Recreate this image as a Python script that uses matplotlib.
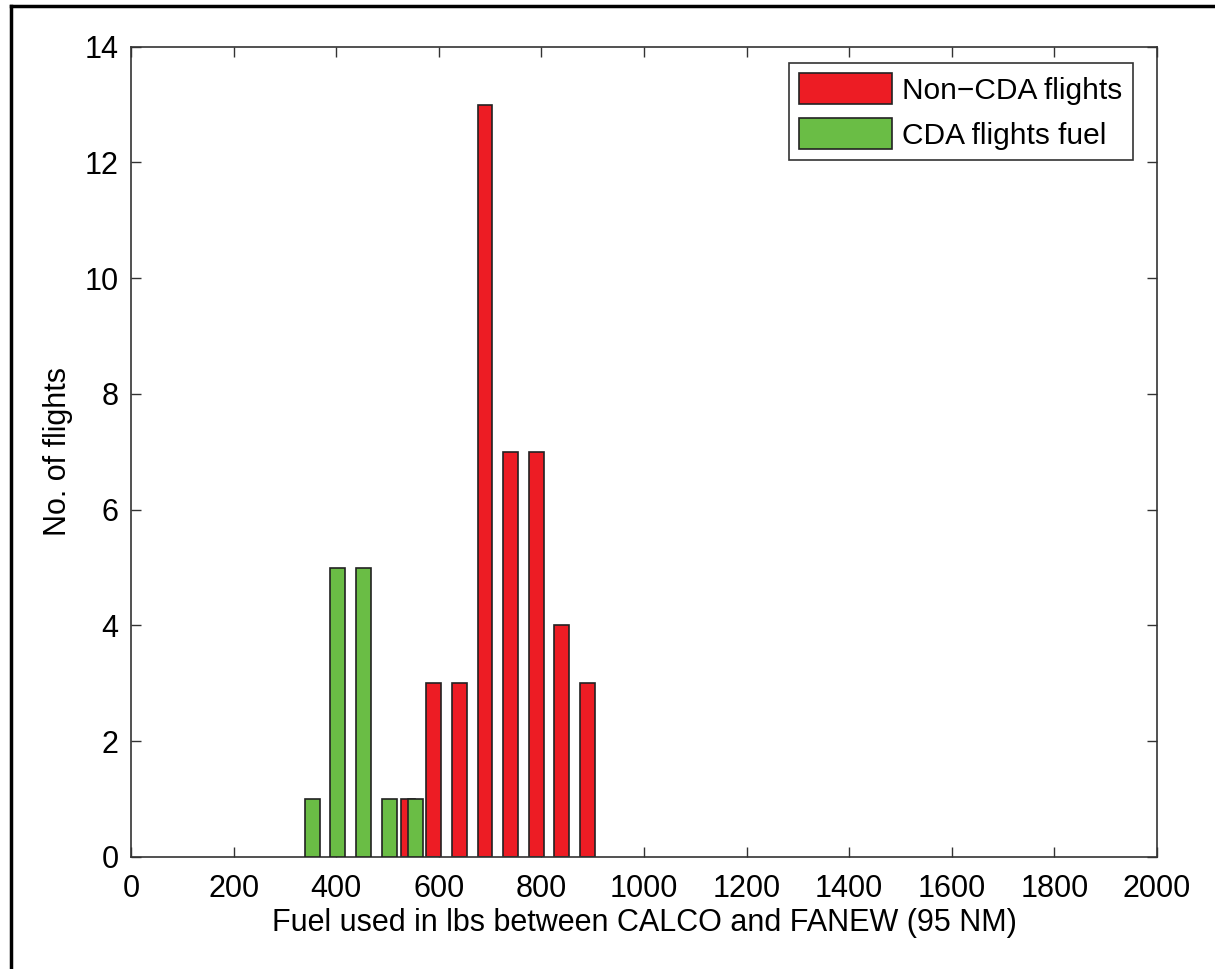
import matplotlib
matplotlib.use("Agg")
import matplotlib.pyplot as plt
from matplotlib.lines import Line2D

plt.rcParams['font.family'] = ['Liberation Sans', 'DejaVu Sans']

# Data
noncda_fuel = [540, 590, 640, 690, 740, 790, 840, 890]
noncda_count = [1, 3, 3, 13, 7, 7, 4, 3]
cda_fuel = [353, 403, 454, 504, 554]
cda_count = [1, 5, 5, 1, 1]
xticks = [0, 200, 400, 600, 800, 1000, 1200, 1400, 1600, 1800, 2000]
yticks = [0, 2, 4, 6, 8, 10, 12, 14]

red = '#ED1C24'
green = '#6ABD45'
edge = '#222222'
bar_w = 29

fig = plt.figure(figsize=(12.15, 9.69), dpi=100)
ax = fig.add_axes([131/1215, 1 - 857/969, (1157-131)/1215, (857-46.7)/969])

ax.bar(noncda_fuel, noncda_count, width=bar_w, color=red, edgecolor=edge,
       linewidth=1.2, label='Non\u2212CDA flights', zorder=2)
ax.bar(cda_fuel, cda_count, width=bar_w, color=green, edgecolor=edge,
       linewidth=1.2, label='CDA flights fuel', zorder=3)

ax.set_xlim(0, 2000)
ax.set_ylim(0, 14)
ax.set_xticks(xticks)
ax.set_yticks(yticks)
ax.tick_params(direction='in', length=7, width=1, top=True, right=True,
               labelsize=22, colors='#333333', labelcolor='black')
ax.tick_params(axis='x', pad=12)
ax.tick_params(axis='y', pad=9)
for s in ax.spines.values():
    s.set_color('#333333')
    s.set_linewidth(1.2)

ax.set_xlabel('Fuel used in lbs between CALCO and FANEW (95 NM)', fontsize=22, labelpad=3)
ax.set_ylabel('No. of flights', fontsize=22, labelpad=8)

leg = ax.legend(loc='upper right', bbox_to_anchor=(0.9766, 0.9799), borderaxespad=0,
                fontsize=21.5, handlelength=3.1, handleheight=1.2,
                labelspacing=0.45, handletextpad=0.35, borderpad=0.35,
                fancybox=False, framealpha=1, edgecolor='#333333')
leg.get_frame().set_linewidth(1.2)

# Outer frame lines (left and top)
fig.add_artist(Line2D([11/1215, 11/1215], [0, 1 - 6/969], transform=fig.transFigure,
                      color='black', linewidth=2.5))
fig.add_artist(Line2D([11/1215, 1], [1 - 6/969, 1 - 6/969], transform=fig.transFigure,
                      color='black', linewidth=2.5))

fig.savefig('out.png', dpi=100)
